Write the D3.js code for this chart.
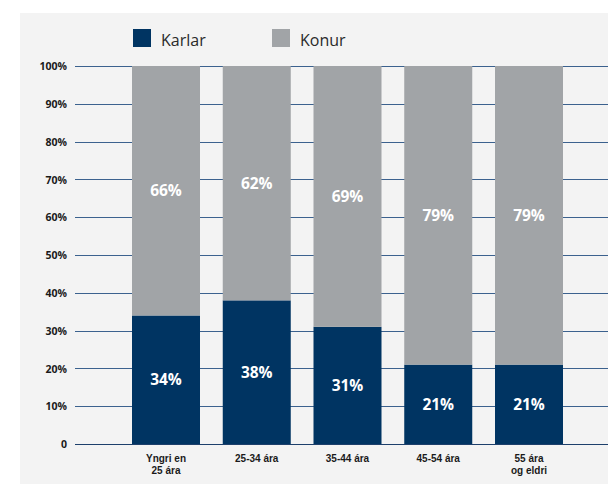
<!DOCTYPE html>
<html><head><meta charset="utf-8">
<script src="https://cdn.jsdelivr.net/npm/d3@7/dist/d3.min.js"></script>
<style>html,body{margin:0;padding:0;background:#fff;}svg{display:block;}</style>
</head><body>
<script>
const categories = [["Yngri en","25 ára"],["25-34 ára"],["35-44 ára"],["45-54 ára"],["55 ára","og eldri"]];
const karlar = [34, 38, 31, 21, 21];
const konur = [66, 62, 69, 79, 79];
const seriesNames = ["Karlar", "Konur"];
const yTicks = [0,10,20,30,40,50,60,70,80,90,100];

const W = 608, H = 486;
const colors = {Karlar:"#003462", Konur:"#a1a4a7"};
const svg = d3.select("body").append("svg").attr("width", W).attr("height", H);
svg.append("rect").attr("x",20).attr("y",13).attr("width",W-20).attr("height",471).attr("fill","#f3f3f3");

const y = d3.scaleLinear().domain([0,100]).range([444,66]);
const x = d3.scaleBand().domain(d3.range(categories.length)).range([41.25,653.75]).paddingInner(0.2507).paddingOuter(1);

// gridlines
svg.append("g").selectAll("line").data(yTicks).join("line")
  .attr("x1",75).attr("x2",W).attr("y1",d=>Math.round(y(d))+0.5).attr("y2",d=>Math.round(y(d))+0.5)
  .attr("stroke",d=>d===0?"#1d3f6b":"#3b618e").attr("stroke-width",1.2);

// y axis labels
const yAxis = d3.axisLeft(y).tickValues(yTicks).tickSize(0).tickPadding(0).tickFormat(d=>d===0?"0":d+"%");
const ga = svg.append("g").attr("transform","translate(67,0)").call(yAxis);
ga.select(".domain").remove();
ga.selectAll("text").attr("font-family","'Open Sans',sans-serif").attr("font-weight","bold").attr("font-size",10.5).attr("fill","#1a1a1a").attr("dy","0.35em");

// bars
const stackData = categories.map((c,i)=>({i, Karlar:karlar[i], Konur:konur[i]}));
const stack = d3.stack().keys(seriesNames)(stackData);
const g = svg.append("g");
stack.forEach(s=>{
  g.selectAll(null).data(s).join("rect")
    .attr("x",d=>x(d.data.i)).attr("width",x.bandwidth())
    .attr("y",d=>y(d[1])).attr("height",d=>y(d[0])-y(d[1]))
    .attr("fill",colors[s.key]);
  g.selectAll(null).data(s).join("text")
    .attr("x",d=>x(d.data.i)+x.bandwidth()/2)
    .attr("y",d=>(y(d[0])+y(d[1]))/2)
    .attr("dy","0.35em").attr("text-anchor","middle")
    .attr("font-family","'Open Sans',sans-serif").attr("font-weight","bold").attr("font-size",15.5)
    .attr("fill","#fff").text(d=>(d[1]-d[0])+"%");
});

// x labels
const xl = svg.append("g");
categories.forEach((lines,i)=>{
  const cx = x(i)+x.bandwidth()/2;
  lines.forEach((l,j)=>xl.append("text").attr("x",cx).attr("y",462+j*12)
    .attr("text-anchor","middle").attr("font-family","'Liberation Sans',Arial,sans-serif").attr("font-weight","bold")
    .attr("font-size",10).attr("fill","#1a1a1a").text(l));
});

// legend
const leg = svg.append("g");
const legX = [133, 272];
seriesNames.forEach((n,i)=>{
  leg.append("rect").attr("x",legX[i]).attr("y",29).attr("width",18).attr("height",18).attr("fill",colors[n]);
  leg.append("text").attr("x",legX[i]+28).attr("y",40).attr("dy","0.35em")
    .attr("font-family","'Open Sans',sans-serif").attr("font-size",16).attr("fill","#2a2a2a").text(n);
});
</script>
</body></html>
